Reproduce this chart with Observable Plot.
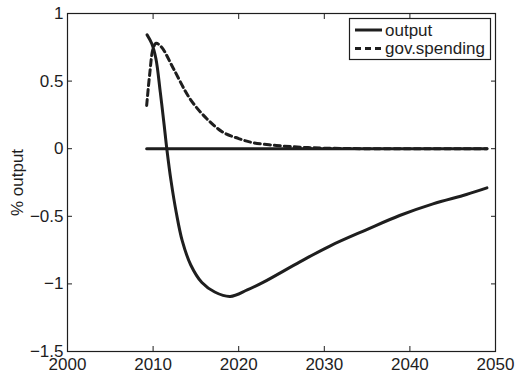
<!DOCTYPE html>
<html><head><meta charset="utf-8">
<script src="https://cdn.jsdelivr.net/npm/d3@7"></script>
<script src="https://cdn.jsdelivr.net/npm/@observablehq/plot@0.6"></script>
<style>
html,body{margin:0;padding:0;background:#fff;}
#chart svg{display:block;}
</style></head><body><div id="chart"></div>
<script>
// ---- data ----
const outputYears  = [2009.3, 2009.85, 2010.33, 2010.84, 2011.3, 2011.6, 2012.1, 2012.7, 2013.4, 2014.4, 2015.7, 2017.2, 2019.0, 2021.0, 2022.9, 2027.2, 2030.65, 2034.9, 2038.8, 2042.7, 2046.6, 2049.0];
const outputValues = [0.842, 0.776, 0.665, 0.418, 0.17, 0.0, -0.24, -0.47, -0.68, -0.86, -0.99, -1.06, -1.093, -1.045, -0.987, -0.835, -0.72, -0.6, -0.494, -0.408, -0.339, -0.29];

const govYears  = [2009.25, 2009.6, 2010.0, 2010.35, 2011.0, 2012.4, 2014.3, 2016.3, 2018.2, 2020.0, 2021.7, 2024.4, 2027.2, 2030.0, 2035.0, 2049.0];
const govValues = [0.32, 0.55, 0.74, 0.78, 0.75, 0.59, 0.37, 0.22, 0.12, 0.075, 0.044, 0.024, 0.011, 0.004, 0.0, 0.0];

const zeroYears  = [2009.25, 2049.0];
const zeroValues = [0, 0];

const xTicks = [2000, 2010, 2020, 2030, 2040, 2050];
const yTicks = [-1.5, -1, -0.5, 0, 0.5, 1];
const seriesNames = ["output", "gov.spending"];
const yLabel = "% output";

// ---- build tables ----
const outputData = outputYears.map((x, i) => ({x, y: outputValues[i]}));
const govData = govYears.map((x, i) => ({x, y: govValues[i]}));
const zeroData = zeroYears.map((x, i) => ({x, y: zeroValues[i]}));

const font = "'Liberation Sans', Arial, Helvetica, sans-serif";
const ink = "#1e1e1e";
const fmtY = d => (d < 0 ? "\u2212" + Math.abs(d) : String(d));

const chart = Plot.plot({
  width: 516, height: 372,
  marginLeft: 67, marginRight: 21, marginTop: 13, marginBottom: 21,
  style: {fontFamily: font, fontSize: "17px", color: ink, background: "#fff"},
  x: {domain: [2000, 2050]},
  y: {domain: [-1.5, 1]},
  marks: [
    Plot.axisX({anchor: "bottom", ticks: xTicks, tickSize: -5, tickPadding: 11, tickFormat: d => String(d), label: null, stroke: ink, fill: ink, fontSize: 17}),
    Plot.axisX({anchor: "top", ticks: xTicks, tickSize: -5, tickFormat: () => "", label: null, stroke: ink}),
    Plot.axisY({anchor: "left", ticks: yTicks, tickSize: -5, tickPadding: 9, tickFormat: fmtY, label: null, stroke: ink, fill: ink, fontSize: 17}),
    Plot.axisY({anchor: "right", ticks: yTicks, tickSize: -5, tickFormat: () => "", label: null, stroke: ink}),
    Plot.frame({stroke: ink, strokeWidth: 1.2}),
    Plot.text([yLabel], {frameAnchor: "left", dx: -50, rotate: -90, textAnchor: "middle", lineAnchor: "middle", fill: ink, fontSize: 17}),
    Plot.line(zeroData, {x: "x", y: "y", stroke: ink, strokeWidth: 3}),
    Plot.line(govData, {x: "x", y: "y", stroke: ink, strokeWidth: 3, strokeDasharray: "6,4", curve: "catmull-rom"}),
    Plot.line(outputData, {x: "x", y: "y", stroke: ink, strokeWidth: 3, curve: "catmull-rom"})
  ]
});
document.getElementById("chart").append(chart);

// ---- legend (inside the axes, top-right) ----
const svg = d3.select(chart);
const lg = svg.append("g").attr("font-family", font).attr("font-size", "17px").attr("fill", ink).attr("text-anchor", "start");
lg.append("rect").attr("x", 349.5).attr("y", 18.5).attr("width", 141).attr("height", 41)
  .attr("fill", "#fff").attr("stroke", ink).attr("stroke-width", 1.2);
const dashes = [null, "6,4"];
seriesNames.forEach((name, i) => {
  const cy = 30 + i * 18.5;
  lg.append("line").attr("x1", 355).attr("x2", 382).attr("y1", cy).attr("y2", cy)
    .attr("stroke", ink).attr("stroke-width", 3).attr("stroke-dasharray", dashes[i]);
  lg.append("text").attr("x", 385).attr("y", cy).attr("dy", "0.35em").attr("text-anchor", "start").text(name);
});
</script>
</body></html>
